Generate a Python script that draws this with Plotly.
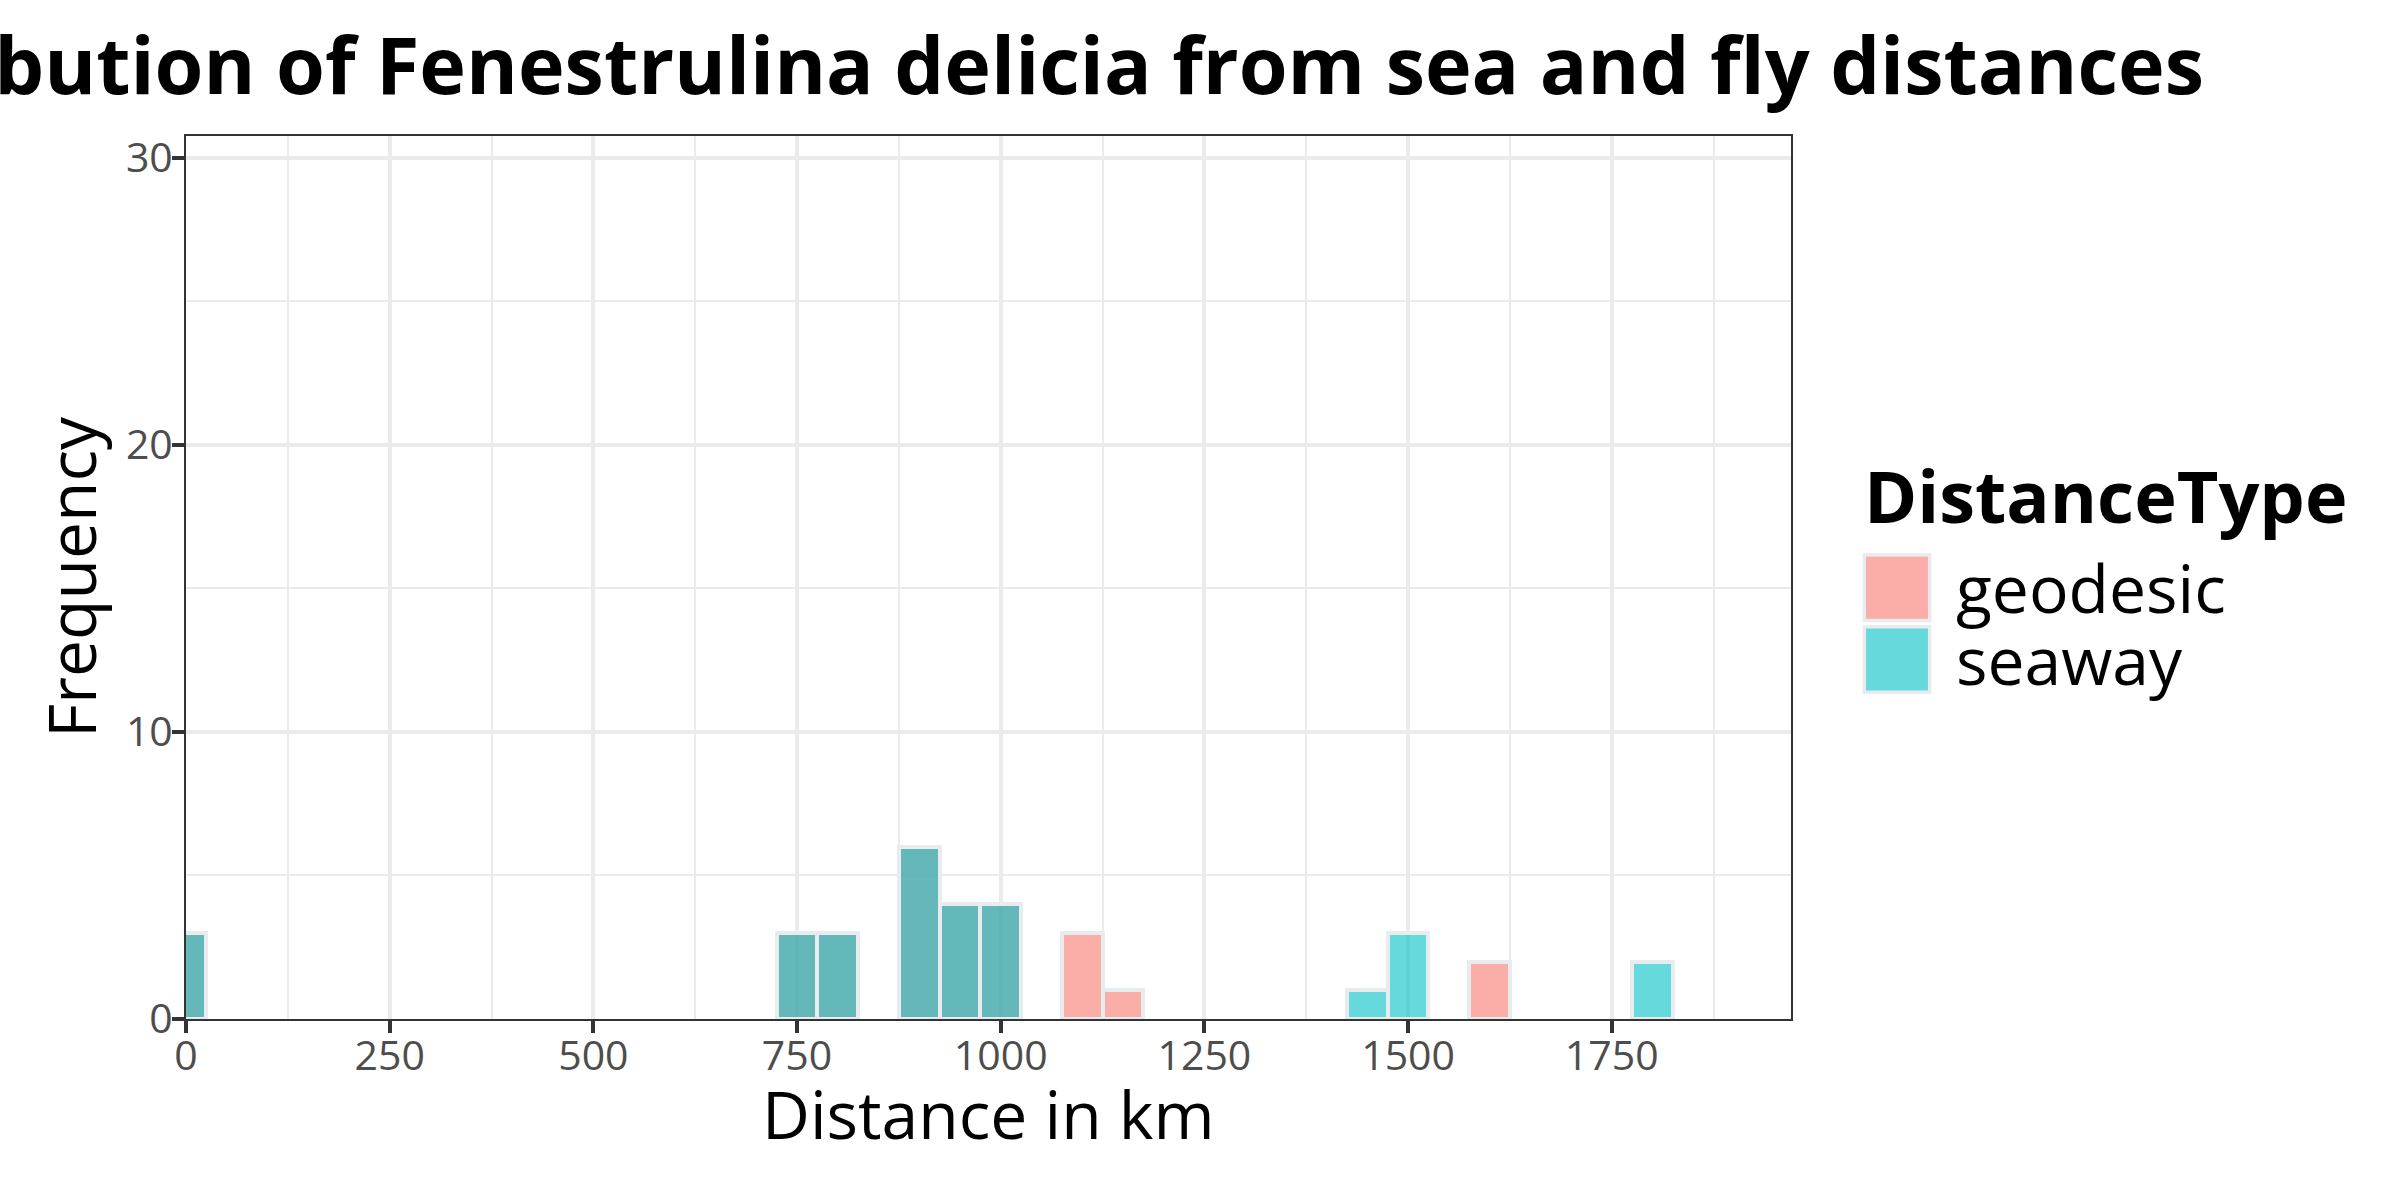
import plotly.graph_objects as go

# ---- data (bin width 50 km) ----
distance_types = ["geodesic", "seaway"]
geodesic_bins = [0, 750, 800, 900, 950, 1000, 1100, 1150, 1600]
geodesic_counts = [3, 3, 3, 6, 4, 4, 3, 1, 2]
seaway_bins = [0, 750, 800, 900, 950, 1000, 1450, 1500, 1800]
seaway_counts = [3, 3, 3, 6, 4, 4, 1, 3, 2]
bin_width = 50
x_ticks = [0, 250, 500, 750, 1000, 1250, 1500, 1750]
y_ticks = [0, 10, 20, 30]

title_text = "Distribution of Fenestrulina delicia from sea and fly distances"
x_title = "Distance in km"
y_title = "Frequency"
legend_title = "DistanceType"

# ---- styles ----
FONT = "Open Sans"
fills = {"geodesic": "rgba(248,118,109,0.6)", "seaway": "rgba(0,191,196,0.6)"}
outline = "#E9ECEF"
grid = "#EBEBEB"
dark = "#333333"

W, H = 2400, 1200
ML, MR, MT, MB = 186, 609, 136, 181
PW, PH = W - ML - MR, H - MT - MB


def pxx(px):
    return (px - ML) / PW


def pxy(py):
    return (H - MB - py) / PH


fig = go.Figure()
series = {"geodesic": (geodesic_bins, geodesic_counts), "seaway": (seaway_bins, seaway_counts)}
for name in distance_types:
    xs, ys = series[name]
    fig.add_trace(go.Bar(
        x=xs, y=ys, width=bin_width, name=name, showlegend=False,
        marker=dict(color=fills[name], line=dict(color=outline, width=4)),
    ))

axis_common = dict(
    showgrid=True, gridcolor=grid, gridwidth=4,
    ticks="outside", ticklen=12, tickwidth=4, tickcolor=dark,
    showline=True, linecolor=dark, linewidth=2, mirror=True,
    zeroline=False,
    tickfont=dict(family=FONT, size=41, color="#4D4D4D"),
)

fig.update_xaxes(
    range=[0, 1970], tickvals=x_ticks, ticklabelstandoff=-12,
    minor=dict(tickvals=[t + 125 for t in x_ticks], showgrid=True, gridcolor=grid, gridwidth=2, ticks=""),
    **axis_common,
)
fig.update_yaxes(
    range=[0, 30.75], tickvals=y_ticks, ticklabelstandoff=-9,
    minor=dict(tickvals=[t + 5 for t in y_ticks], showgrid=True, gridcolor=grid, gridwidth=2, ticks=""),
    title=dict(text=y_title, font=dict(family=FONT, size=66, color="black"), standoff=8),
    **axis_common,
)

shapes = []
annotations = []

# x-axis title (placed as annotation to sit closer to the tick labels, as in ggplot)
annotations.append(dict(
    text=x_title, xref="paper", yref="paper", x=0.5, y=pxy(1139 - 0.388 * 66),
    xanchor="center", yanchor="middle", showarrow=False,
    font=dict(family=FONT, size=66, color="black"),
))

# ---- custom legend (ggplot-style big keys) ----
annotations.append(dict(
    text=legend_title, xref="paper", yref="paper", x=pxx(1862), y=pxy(523 - 0.388 * 72),
    xanchor="left", yanchor="middle", showarrow=False,
    font=dict(family=FONT, size=72, weight=700, color="black"),
))
key_top = 555
pitch = 71.7
for i, name in enumerate(distance_types):
    y0 = key_top + i * pitch
    shapes.append(dict(
        type="rect", xref="paper", yref="paper",
        x0=pxx(1864.3), x1=pxx(1929.7), y0=pxy(y0), y1=pxy(y0 + 65.5),
        fillcolor=fills[name], line=dict(color=outline, width=3.5), layer="above",
    ))
    base = 612.7 + i * pitch
    annotations.append(dict(
        text=name, xref="paper", yref="paper", x=pxx(1954), y=pxy(base - 0.388 * 66),
        xanchor="left", yanchor="middle", showarrow=False,
        font=dict(family=FONT, size=66, color="black"),
    ))

fig.update_layout(
    width=W, height=H,
    margin=dict(l=ML, r=MR, t=MT, b=MB),
    paper_bgcolor="white", plot_bgcolor="white",
    barmode="overlay", bargap=0,
    showlegend=False,
    title=dict(
        text=title_text, xref="container", x=2204 / W, xanchor="right",
        yref="container", y=1 - 66 / H, yanchor="middle",
        font=dict(family=FONT, size=79, weight=700, color="black"),
    ),
    shapes=shapes,
    annotations=annotations,
)

fig.write_html("out.html")
